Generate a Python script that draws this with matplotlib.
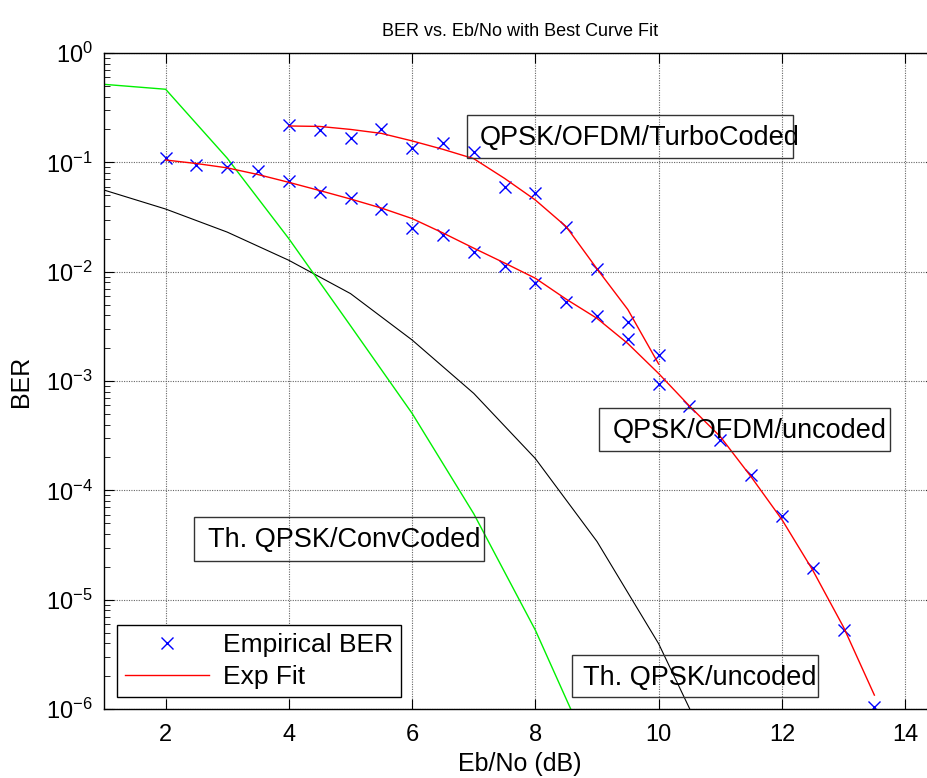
import numpy as np
import matplotlib
matplotlib.use('Agg')
import matplotlib.pyplot as plt
from matplotlib.patches import Rectangle

plt.rcParams['font.family'] = ['Liberation Sans', 'DejaVu Sans']
plt.rcParams['mathtext.fontset'] = 'custom'
plt.rcParams['mathtext.rm'] = 'Liberation Sans'
plt.rcParams['mathtext.it'] = 'Liberation Sans:italic'
plt.rcParams['mathtext.bf'] = 'Liberation Sans:bold'

# theoretical curves (integer Eb/No)
snr_th = [1, 2, 3, 4, 5, 6, 7, 8, 9, 10, 11]
ber_th_uncoded = [0.0558, 0.0374, 0.023, 0.0127, 0.0063, 0.00237, 7.7e-4,
                  1.95e-4, 3.4e-5, 3.95e-6, 2.6e-7]
snr_conv = [1, 2, 3, 4, 5, 6, 7, 8, 9]
ber_conv = [0.517, 0.466, 0.109, 0.020, 0.0032, 5.05e-4, 6.1e-5, 5.25e-6, 2.9e-7]

# QPSK/OFDM uncoded, empirical + fit
snr_ofdm = np.arange(2, 14, 0.5)
ber_ofdm = [0.109, 0.0945, 0.0912, 0.083, 0.0675, 0.0538, 0.0475, 0.0374,
            0.0252, 0.0216, 0.0150, 0.01125, 0.0079, 0.00524, 0.0039, 0.00242,
            0.00094, 5.9e-4, 2.88e-4, 1.38e-4, 5.8e-5, 1.93e-5, 5.25e-6, 1.05e-6]
fit_ofdm = [0.105, 0.0975, 0.089, 0.0773, 0.0656, 0.0552, 0.0462, 0.0382,
            0.0306, 0.0226, 0.0164, 0.0120, 0.0087, 0.0056, 0.00374, 0.0022,
            0.00117, 5.9e-4, 3.1e-4, 1.33e-4, 5.4e-5, 1.86e-5, 5.6e-6, 1.34e-6]

# QPSK/OFDM turbo coded, empirical + fit
snr_turbo = np.arange(4, 10.5, 0.5)
ber_turbo = [0.219, 0.1976, 0.166, 0.2018, 0.134, 0.149, 0.125, 0.0598,
             0.052, 0.0258, 0.0106, 0.0035, 0.00173]
fit_turbo = [0.215, 0.213, 0.20, 0.184, 0.157, 0.1315, 0.108, 0.0713,
             0.0452, 0.0258, 0.0106, 0.0045, 0.00143]

W, H = 928, 778
fig = plt.figure(figsize=(W / 100, H / 100), dpi=100)
ax = fig.add_axes([104 / W, 1 - 709 / H, 832 / W, 656 / H])

ax.semilogy(snr_th, ber_th_uncoded, color='black', lw=0.8)
ax.semilogy(snr_conv, ber_conv, color='#00f000', lw=1.0)
emp, = ax.semilogy(snr_ofdm, ber_ofdm, 'x', color='blue', ms=8, mew=1.0)
fit, = ax.semilogy(snr_ofdm, fit_ofdm, '-', color='red', lw=1.0)
ax.semilogy(snr_turbo, ber_turbo, 'x', color='blue', ms=8, mew=1.0)
ax.semilogy(snr_turbo, fit_turbo, '-', color='red', lw=1.0)

ax.set_xlim(1, 14.5)
ax.set_ylim(1e-6, 1)
ax.set_xticks([2, 4, 6, 8, 10, 12, 14])
ax.grid(True, which='major', linestyle=(0, (1, 1.2)), color='0.4', lw=0.8)
ax.tick_params(which='both', direction='in', top=True, right=True, labelsize=17)
ax.tick_params(which='major', length=7)
ax.tick_params(axis='x', which='major', pad=11)
ax.tick_params(axis='y', which='major', pad=8)
ax.tick_params(which='minor', length=4)
for s in ax.spines.values():
    s.set_linewidth(1.0)

ax.set_title('BER vs. Eb/No with Best Curve Fit', fontsize=13, pad=12)
ax.set_xlabel('Eb/No (dB)', fontsize=18, labelpad=4)
ax.set_ylabel('BER', fontsize=18, labelpad=9)

leg = ax.legend([emp, fit], ['Empirical BER', 'Exp Fit'], loc='lower left',
                bbox_to_anchor=(13 / 832, 12 / 656), borderaxespad=0,
                fontsize=19, handlelength=3.2, handletextpad=0.5,
                labelspacing=0.3, borderpad=0.3, fancybox=False,
                edgecolor='black', framealpha=1)
leg.get_frame().set_linewidth(1.0)


def label_box(text, left, top, right, bottom, text_left):
    fig.add_artist(Rectangle((left / W, 1 - bottom / H), (right - left) / W,
                             (bottom - top) / H, transform=fig.transFigure,
                             fill=False, edgecolor='0.2', lw=1.0))
    fig.text(text_left / W, 1 - (top + bottom + 3) / 2 / H, text, fontsize=19.5,
             ha='left', va='center')


label_box('QPSK/OFDM/TurboCoded', 467, 115, 793, 158, 480)
label_box('QPSK/OFDM/uncoded', 599, 408, 890, 451, 613)
label_box('Th. QPSK/ConvCoded', 194, 517, 484, 561, 208)
label_box('Th. QPSK/uncoded', 572, 655, 818, 697, 583)

fig.savefig('out.png', dpi=100)
